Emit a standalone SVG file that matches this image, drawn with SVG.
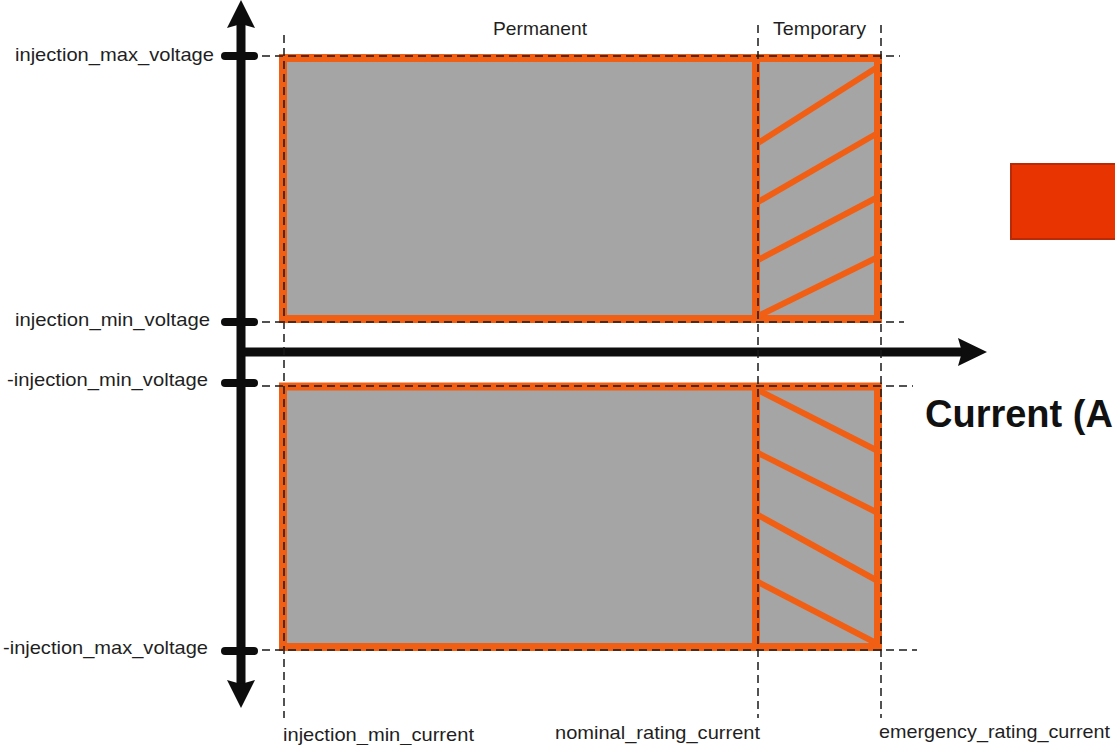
<svg xmlns="http://www.w3.org/2000/svg" width="1115" height="745" viewBox="0 0 1115 745">
<style>
.lbl{font-family:"Liberation Sans",Arial,sans-serif;font-size:19px;fill:#1f1f1f}
.big{font-family:"Liberation Sans",Arial,sans-serif;font-size:38px;font-weight:bold;fill:#111}
.zone{fill:#a5a5a5;stroke:#f05f14;stroke-width:8}
.orl{stroke:#f05f14;stroke-width:8;fill:none}
.hatch{stroke:#f05f14;stroke-width:6;fill:none}
.dash{stroke:#1a1a1a;stroke-width:1.5;stroke-dasharray:8 5;fill:none}
.axis{stroke:#0d0d0d;stroke-width:9;fill:none}
.tick{stroke:#0d0d0d;stroke-width:8;stroke-linecap:round}
.head{fill:#0d0d0d}
</style>
<rect width="1115" height="745" fill="#ffffff"/>

<g id="upper-zone">
  <rect class="zone" x="283" y="58" width="595" height="261"/>
  <line class="orl" x1="756" y1="58" x2="756" y2="319"/>
  <g class="hatch">
    <line x1="758" y1="143" x2="876" y2="68"/>
    <line x1="758" y1="202" x2="876" y2="134"/>
    <line x1="758" y1="260" x2="876" y2="198"/>
    <line x1="758" y1="316" x2="876" y2="258"/>
  </g>
</g>

<g id="lower-zone">
  <rect class="zone" x="283" y="386.5" width="595" height="260.5"/>
  <line class="orl" x1="756" y1="386.5" x2="756" y2="647"/>
  <g class="hatch">
    <line x1="758" y1="390" x2="876" y2="450"/>
    <line x1="758" y1="453" x2="876" y2="512"/>
    <line x1="758" y1="515" x2="876" y2="580"/>
    <line x1="758" y1="582" x2="876" y2="643"/>
  </g>
</g>

<g id="legend-box">
  <rect x="1011" y="164" width="120" height="75" fill="#e83400" stroke="#b82a08" stroke-width="2"/>
</g>

<g id="axes">
  <line class="axis" x1="241" y1="20" x2="241" y2="688"/>
  <polygon class="head" points="241,0 227,28 241,24 255,28"/>
  <polygon class="head" points="241,708 227,680 241,684 255,680"/>
  <line class="axis" x1="241" y1="352" x2="966" y2="352"/>
  <polygon class="head" points="987,352 958,338 962,352 958,366"/>
  <line class="tick" x1="225" y1="56" x2="254" y2="56"/>
  <line class="tick" x1="225" y1="322" x2="254" y2="322"/>
  <line class="tick" x1="225" y1="383" x2="254" y2="383"/>
  <line class="tick" x1="225" y1="651" x2="254" y2="651"/>
</g>

<g id="connectors">
  <line class="dash" x1="262" y1="56" x2="900" y2="56"/>
  <line class="dash" x1="262" y1="322" x2="904" y2="322"/>
  <line class="dash" x1="262" y1="386" x2="913" y2="386"/>
  <line class="dash" x1="262" y1="650" x2="917" y2="650"/>
  <line class="dash" x1="284" y1="35" x2="284" y2="718"/>
  <line class="dash" x1="758" y1="25" x2="758" y2="718"/>
  <line class="dash" x1="881" y1="25" x2="881" y2="718"/>
</g>

<g id="labels">
  <text class="lbl" x="15" y="61" textLength="199" lengthAdjust="spacingAndGlyphs">injection_max_voltage</text>
  <text class="lbl" x="15" y="326" textLength="195" lengthAdjust="spacingAndGlyphs">injection_min_voltage</text>
  <text class="lbl" x="7" y="386" textLength="201" lengthAdjust="spacingAndGlyphs">-injection_min_voltage</text>
  <text class="lbl" x="3" y="654" textLength="205" lengthAdjust="spacingAndGlyphs">-injection_max_voltage</text>
  <text class="lbl" x="283" y="741" textLength="191" lengthAdjust="spacingAndGlyphs">injection_min_current</text>
  <text class="lbl" x="555" y="739" textLength="205" lengthAdjust="spacingAndGlyphs">nominal_rating_current</text>
  <text class="lbl" x="879" y="738" textLength="231" lengthAdjust="spacingAndGlyphs">emergency_rating_current</text>
  <text class="lbl" x="493" y="35" textLength="94" lengthAdjust="spacingAndGlyphs">Permanent</text>
  <text class="lbl" x="773" y="35" textLength="93" lengthAdjust="spacingAndGlyphs">Temporary</text>
  <text class="big" x="925" y="427">Current (A</text>
</g>
</svg>
